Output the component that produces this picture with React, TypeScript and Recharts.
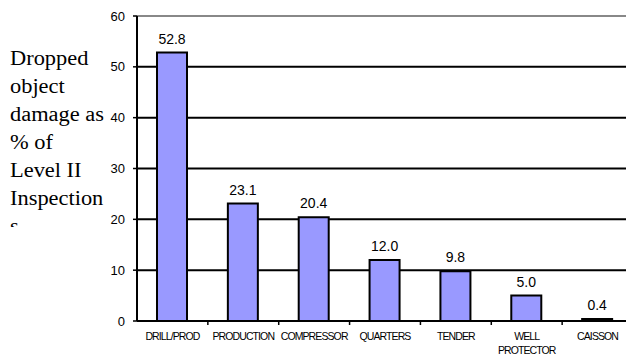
import React from "react";
import {
  BarChart,
  Bar,
  XAxis,
  YAxis,
  CartesianGrid,
  ReferenceLine,
  LabelList,
} from "recharts";

const categories = [
  "DRILL/PROD",
  "PRODUCTION",
  "COMPRESSOR",
  "QUARTERS",
  "TENDER",
  "WELL PROTECTOR",
  "CAISSON",
];
const damagePct = [52.8, 23.1, 20.4, 12.0, 9.8, 5.0, 0.4];
const yTicks = [0, 10, 20, 30, 40, 50, 60];
const labelLines = ["Dropped", "object", "damage as", "% of", "Level II", "Inspection", "s"];

const data = categories.map((name, i) => ({ name, value: damagePct[i] }));

// chart is wider than the window on purpose: the reference is cropped on the right
const CHART_W = 640;
const CHART_H = 356;
const Y_W = 137;
const MARGIN_R = 7;
const PLOT_BOTTOM = 321;
const BAND_W = (CHART_W - Y_W - MARGIN_R) / categories.length;

function CategoryTick(props: any) {
  const { x, payload } = props;
  const words = String(payload.value).split(" ");
  const lines = words.length > 1 ? words : [payload.value];
  const right = x + BAND_W / 2;
  return (
    <g>
      <line x1={right} y1={PLOT_BOTTOM} x2={right} y2={PLOT_BOTTOM + 4} stroke="#000" strokeWidth={1.5} />
      {lines.map((ln: string, i: number) => (
        <text
          key={ln}
          x={x}
          y={340 + i * 14}
          textAnchor="middle"
          fontSize={10.5}
          letterSpacing={-0.9}
          fontFamily="Arial, 'Liberation Sans', sans-serif"
          fill="#000"
        >
          {ln}
        </text>
      ))}
    </g>
  );
}

export default function App() {
  return (
    <div
      style={{
        position: "fixed",
        left: 0,
        top: 0,
        width: 626,
        height: 356,
        overflow: "hidden",
        background: "#fff",
      }}
    >
      <BarChart
        width={CHART_W}
        height={CHART_H}
        data={data}
        margin={{ top: 16, right: MARGIN_R, left: 0, bottom: 5 }}
        barSize={30}
      >
        <CartesianGrid vertical={false} stroke="#000" strokeWidth={2} />
        <ReferenceLine y={60} stroke="#888" strokeWidth={2} />
        <XAxis
          dataKey="name"
          height={30}
          axisLine={{ stroke: "#000", strokeWidth: 2 }}
          tickLine={false}
          interval={0}
          tick={<CategoryTick />}
        />
        <YAxis
          width={Y_W}
          domain={[0, 60]}
          ticks={yTicks}
          interval={0}
          axisLine={{ stroke: "#000", strokeWidth: 2 }}
          tickLine={{ stroke: "#000", strokeWidth: 1.5 }}
          tickSize={4}
          tickMargin={8}
          tick={{ fill: "#000", fontSize: 13, fontFamily: "Arial, 'Liberation Sans', sans-serif" }}
        />
        <Bar dataKey="value" fill="#9999FF" stroke="#000" strokeWidth={2} isAnimationActive={false}>
          <LabelList
            dataKey="value"
            position="top"
            offset={9}
            formatter={(v: any) => Number(v).toFixed(1)}
            style={{ fill: "#000", fontSize: 14, fontFamily: "Arial, 'Liberation Sans', sans-serif" }}
          />
        </Bar>
      </BarChart>
      <div
        style={{
          position: "absolute",
          left: 10,
          top: 44,
          height: 183,
          overflow: "hidden",
          fontFamily: "'Liberation Serif', 'Times New Roman', serif",
          fontSize: 20,
          lineHeight: "28px",
          color: "#000",
          transform: "scaleX(1.12)",
          transformOrigin: "left top",
          whiteSpace: "nowrap",
        }}
      >
        {labelLines.map((ln) => (
          <div key={ln}>{ln}</div>
        ))}
      </div>
    </div>
  );
}
